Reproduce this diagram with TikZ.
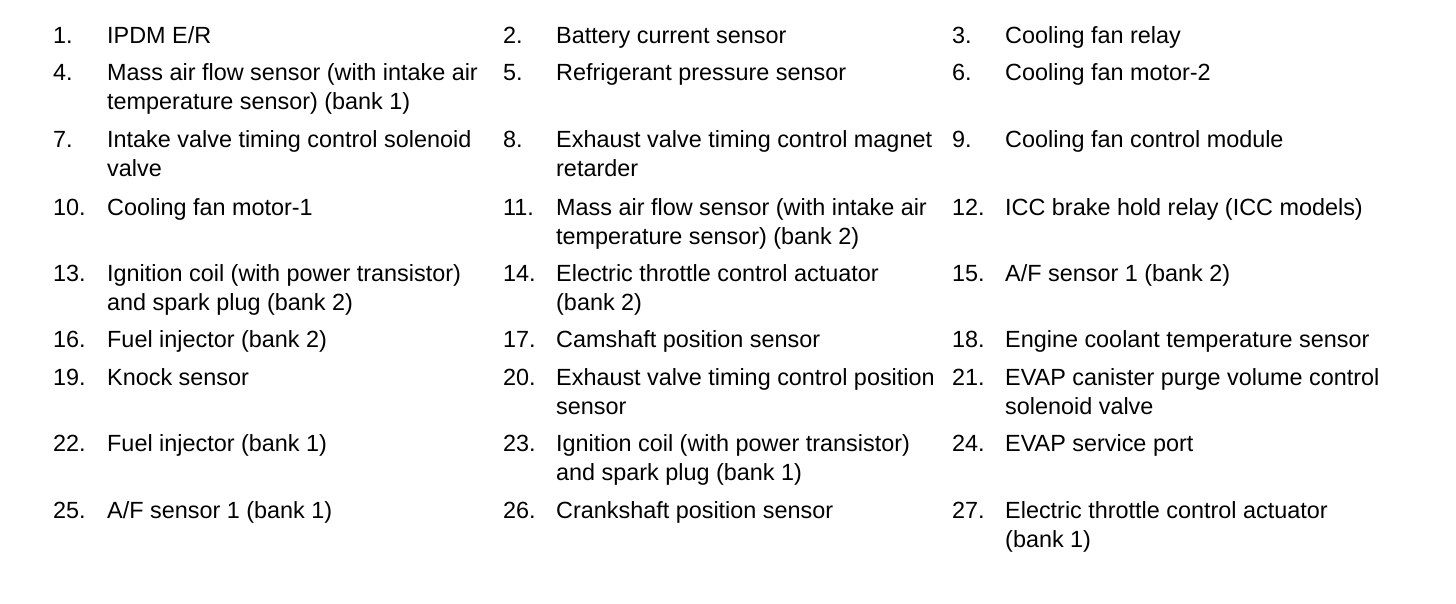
\documentclass[tikz,border=0pt]{standalone}
\usepackage{fontspec}
\setmainfont{Liberation Sans}
\begin{document}
\begin{tikzpicture}[x=1pt,y=-1pt,
  lbl/.style={anchor=base west,inner sep=0pt,font=\fontsize{23.4}{28}\selectfont},
  num/.style={lbl}]
\useasboundingbox[fill=white] (0,0) rectangle (1456,604);
% column x positions: 53/107, 503/556, 952/1005
% row 1
\node[num] (n1) at (53,44) {1.};
\node[lbl] (t1) at (107,44) {IPDM E/R};
\node[num] (n2) at (503,44) {2.};
\node[lbl] (t2) at (556,44) {Battery current sensor};
\node[num] (n3) at (952,44) {3.};
\node[lbl] (t3) at (1005,44) {Cooling fan relay};
% row 2
\node[num] (n4) at (53,81) {4.};
\node[lbl] (t4a) at (107,81) {Mass air flow sensor (with intake air};
\node[lbl] (t4b) at (107,110) {temperature sensor) (bank 1)};
\node[num] (n5) at (503,81) {5.};
\node[lbl] (t5) at (556,81) {Refrigerant pressure sensor};
\node[num] (n6) at (952,81) {6.};
\node[lbl] (t6) at (1005,81) {Cooling fan motor-2};
% row 3
\node[num] (n7) at (53,148) {7.};
\node[lbl] (t7a) at (107,148) {Intake valve timing control solenoid};
\node[lbl] (t7b) at (107,177) {valve};
\node[num] (n8) at (503,148) {8.};
\node[lbl] (t8a) at (556,148) {Exhaust valve timing control magnet};
\node[lbl] (t8b) at (556,177) {retarder};
\node[num] (n9) at (952,148) {9.};
\node[lbl] (t9) at (1005,148) {Cooling fan control module};
% row 4
\node[num] (n10) at (53,215) {10.};
\node[lbl] (t10) at (107,215) {Cooling fan motor-1};
\node[num] (n11) at (503,215) {11.};
\node[lbl] (t11a) at (556,215) {Mass air flow sensor (with intake air};
\node[lbl] (t11b) at (556,244) {temperature sensor) (bank 2)};
\node[num] (n12) at (952,215) {12.};
\node[lbl] (t12) at (1005,215) {ICC brake hold relay (ICC models)};
% row 5
\node[num] (n13) at (53,281) {13.};
\node[lbl] (t13a) at (107,281) {Ignition coil (with power transistor)};
\node[lbl] (t13b) at (107,310) {and spark plug (bank 2)};
\node[num] (n14) at (503,281) {14.};
\node[lbl] (t14a) at (556,281) {Electric throttle control actuator};
\node[lbl] (t14b) at (556,310) {(bank 2)};
\node[num] (n15) at (952,281) {15.};
\node[lbl] (t15) at (1005,281) {A/F sensor 1 (bank 2)};
% row 6
\node[num] (n16) at (53,347) {16.};
\node[lbl] (t16) at (107,347) {Fuel injector (bank 2)};
\node[num] (n17) at (503,347) {17.};
\node[lbl] (t17) at (556,347) {Camshaft position sensor};
\node[num] (n18) at (952,347) {18.};
\node[lbl] (t18) at (1005,347) {Engine coolant temperature sensor};
% row 7
\node[num] (n19) at (53,385) {19.};
\node[lbl] (t19) at (107,385) {Knock sensor};
\node[num] (n20) at (503,385) {20.};
\node[lbl] (t20a) at (556,385) {Exhaust valve timing control position};
\node[lbl] (t20b) at (556,414) {sensor};
\node[num] (n21) at (952,385) {21.};
\node[lbl] (t21a) at (1005,385) {EVAP canister purge volume control};
\node[lbl] (t21b) at (1005,414) {solenoid valve};
% row 8
\node[num] (n22) at (53,451) {22.};
\node[lbl] (t22) at (107,451) {Fuel injector (bank 1)};
\node[num] (n23) at (503,451) {23.};
\node[lbl] (t23a) at (556,451) {Ignition coil (with power transistor)};
\node[lbl] (t23b) at (556,480) {and spark plug (bank 1)};
\node[num] (n24) at (952,451) {24.};
\node[lbl] (t24) at (1005,451) {EVAP service port};
% row 9
\node[num] (n25) at (53,518) {25.};
\node[lbl] (t25) at (107,518) {A/F sensor 1 (bank 1)};
\node[num] (n26) at (503,518) {26.};
\node[lbl] (t26) at (556,518) {Crankshaft position sensor};
\node[num] (n27) at (952,518) {27.};
\node[lbl] (t27a) at (1005,518) {Electric throttle control actuator};
\node[lbl] (t27b) at (1005,547) {(bank 1)};
\end{tikzpicture}
\end{document}
